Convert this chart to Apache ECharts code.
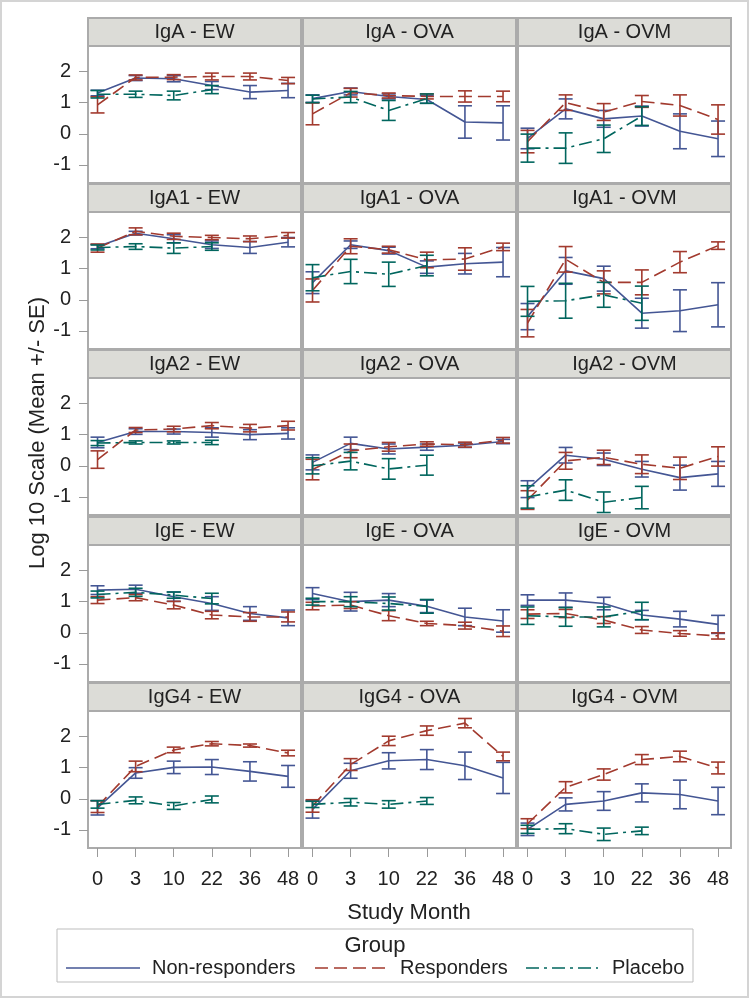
<!DOCTYPE html>
<html>
<head>
<meta charset="utf-8">
<script src="https://cdn.jsdelivr.net/npm/echarts@6/dist/echarts.min.js"></script>
<style>
html,body{margin:0;padding:0;background:#fff;}
#chart{width:750px;height:1000px;}
</style>
</head>
<body>
<div id="chart"></div>
<script>
// ---------- data ----------
const months = ['0', '3', '10', '22', '36', '48'];
const analytes = ['IgA', 'IgA1', 'IgA2', 'IgE', 'IgG4'];
const antigens = ['EW', 'OVA', 'OVM'];
const groups = ['Non-responders', 'Responders', 'Placebo'];
const yTicks = [-1, 0, 1, 2];

// rows: panels in reading order (IgA-EW, IgA-OVA, IgA-OVM, IgA1-EW, ...); columns: months
const nonMean = [
  [1.31, 1.79, 1.77, 1.55, 1.34, 1.39],
  [1.13, 1.36, 1.20, 1.10, 0.38, 0.35],
  [-0.15, 0.80, 0.48, 0.57, 0.08, -0.16],
  [1.71, 2.14, 1.96, 1.77, 1.68, 1.85],
  [0.55, 1.77, 1.58, 1.05, 1.16, 1.21],
  [-0.54, 0.93, 0.68, -0.43, -0.35, -0.16],
  [0.75, 1.10, 1.10, 1.07, 1.00, 1.04],
  [0.11, 0.72, 0.54, 0.60, 0.66, 0.78],
  [-0.75, 0.34, 0.21, -0.11, -0.38, -0.26],
  [1.37, 1.40, 1.16, 0.94, 0.62, 0.48],
  [1.26, 1.00, 1.05, 0.85, 0.51, 0.38],
  [1.05, 1.05, 0.94, 0.57, 0.44, 0.27],
  [-0.29, 0.83, 1.01, 1.02, 0.88, 0.72],
  [-0.34, 0.90, 1.22, 1.26, 1.06, 0.67],
  [-0.98, -0.18, -0.07, 0.19, 0.14, -0.07]
];
const nonSE = [
  [0.09, 0.08, 0.10, 0.13, 0.21, 0.23],
  [0.12, 0.11, 0.08, 0.12, 0.52, 0.55],
  [0.33, 0.32, 0.27, 0.32, 0.56, 0.57],
  [0.07, 0.06, 0.13, 0.12, 0.19, 0.15],
  [0.35, 0.12, 0.11, 0.20, 0.33, 0.47],
  [0.42, 0.43, 0.40, 0.48, 0.67, 0.71],
  [0.17, 0.09, 0.08, 0.15, 0.16, 0.18],
  [0.24, 0.20, 0.16, 0.10, 0.07, 0.07],
  [0.27, 0.25, 0.20, 0.25, 0.40, 0.40],
  [0.14, 0.13, 0.15, 0.22, 0.22, 0.25],
  [0.19, 0.30, 0.21, 0.20, 0.28, 0.36],
  [0.17, 0.23, 0.20, 0.15, 0.25, 0.29],
  [0.23, 0.17, 0.20, 0.24, 0.31, 0.35],
  [0.28, 0.24, 0.26, 0.32, 0.44, 0.50],
  [0.20, 0.21, 0.30, 0.29, 0.46, 0.44]
];
const respMean = [
  [0.93, 1.81, 1.82, 1.84, 1.84, 1.71],
  [0.64, 1.32, 1.23, 1.20, 1.20, 1.20],
  [-0.25, 1.00, 0.70, 1.04, 0.91, 0.46],
  [1.66, 2.20, 2.04, 2.00, 1.96, 2.07],
  [0.30, 1.72, 1.61, 1.28, 1.31, 1.70],
  [-0.75, 1.30, 0.56, 0.56, 1.21, 1.74],
  [0.20, 1.15, 1.18, 1.29, 1.21, 1.29],
  [-0.12, 0.48, 0.61, 0.70, 0.68, 0.82],
  [-1.10, 0.16, 0.27, 0.05, -0.08, 0.30],
  [1.05, 1.13, 0.89, 0.57, 0.51, 0.51],
  [0.86, 0.89, 0.55, 0.30, 0.23, 0.05],
  [0.60, 0.62, 0.41, 0.09, -0.02, -0.10],
  [-0.25, 1.04, 1.57, 1.77, 1.71, 1.47],
  [-0.23, 1.10, 1.86, 2.19, 2.43, 1.36],
  [-0.80, 0.37, 0.78, 1.26, 1.36, 0.99]
];
const respSE = [
  [0.26, 0.08, 0.08, 0.11, 0.11, 0.10],
  [0.35, 0.14, 0.08, 0.08, 0.18, 0.17],
  [0.36, 0.25, 0.27, 0.19, 0.34, 0.47],
  [0.13, 0.11, 0.10, 0.07, 0.09, 0.09],
  [0.37, 0.24, 0.11, 0.25, 0.36, 0.12],
  [0.44, 0.41, 0.37, 0.40, 0.34, 0.12],
  [0.28, 0.08, 0.09, 0.10, 0.12, 0.14],
  [0.33, 0.22, 0.14, 0.07, 0.08, 0.09],
  [0.30, 0.27, 0.23, 0.30, 0.36, 0.31],
  [0.11, 0.10, 0.12, 0.12, 0.14, 0.16],
  [0.12, 0.11, 0.16, 0.07, 0.11, 0.17],
  [0.14, 0.13, 0.11, 0.11, 0.09, 0.10],
  [0.19, 0.17, 0.09, 0.07, 0.05, 0.09],
  [0.20, 0.19, 0.15, 0.15, 0.15, 0.14],
  [0.16, 0.18, 0.18, 0.16, 0.17, 0.19]
];
const placMean = [
  [1.27, 1.27, 1.23, 1.42, null, null],
  [1.12, 1.18, 0.75, 1.13, null, null],
  [-0.46, -0.46, -0.16, 0.57, null, null],
  [1.68, 1.71, 1.66, 1.71, null, null],
  [0.71, 0.91, 0.82, 1.10, null, null],
  [-0.05, -0.03, 0.16, -0.11, null, null],
  [0.73, 0.75, 0.75, 0.75, null, null],
  [0.00, 0.15, -0.10, 0.02, null, null],
  [-1.00, -0.78, -1.17, -1.02, null, null],
  [1.23, 1.30, 1.21, 1.10, null, null],
  [1.00, 1.00, 0.94, 0.85, null, null],
  [0.55, 0.51, 0.51, 0.70, null, null],
  [-0.18, -0.05, -0.23, -0.02, null, null],
  [-0.18, -0.11, -0.18, -0.07, null, null],
  [-0.98, -0.96, -1.14, -1.03, null, null]
];
const placSE = [
  [0.12, 0.10, 0.14, 0.13, null, null],
  [0.12, 0.18, 0.32, 0.15, null, null],
  [0.45, 0.49, 0.44, 0.30, null, null],
  [0.08, 0.09, 0.17, 0.12, null, null],
  [0.42, 0.39, 0.39, 0.33, null, null],
  [0.48, 0.56, 0.40, 0.55, null, null],
  [0.08, 0.05, 0.05, 0.07, null, null],
  [0.26, 0.28, 0.33, 0.32, null, null],
  [0.36, 0.33, 0.33, 0.36, null, null],
  [0.11, 0.13, 0.10, 0.17, null, null],
  [0.11, 0.16, 0.21, 0.22, null, null],
  [0.28, 0.30, 0.32, 0.28, null, null],
  [0.12, 0.11, 0.11, 0.11, null, null],
  [0.10, 0.12, 0.12, 0.11, null, null],
  [0.13, 0.16, 0.20, 0.12, null, null]
];

// ---------- styling / layout ----------
const FONT = '"Liberation Sans", Arial, sans-serif';
const TXT = '#222';
const colors = ['#445694', '#A23A2E', '#01665E'];
const dashes = ['solid', [13, 6], [13, 5, 3, 5]];
const means = [nonMean, respMean, placMean];
const ses = [nonSE, respSE, placSE];

const colLeft = [88, 303, 518], colW = 213;
const rowTop = [18, 184, 350, 517, 683], headH = 27, plotH = 137;
const tickIdx = months.map((m, i) => i);

const grids = [], xAxes = [], yAxes = [], series = [], graphics = [];

graphics.push({type: 'rect', shape: {x: 1, y: 1, width: 747, height: 996},
  style: {fill: 'none', stroke: '#d4d4d4', lineWidth: 2}, silent: true});

for (let r = 0; r < analytes.length; r++) {
  for (let c = 0; c < antigens.length; c++) {
    const idx = r * 3 + c;
    grids.push({left: colLeft[c], top: rowTop[r] + headH + 1, width: colW, height: plotH,
      show: true, borderColor: '#ababab', borderWidth: 2, backgroundColor: '#fff'});
    xAxes.push({gridIndex: idx, type: 'value', min: -0.25, max: 5.34, position: 'bottom',
      axisLine: {show: false, onZero: false}, splitLine: {show: false},
      axisTick: {show: r === analytes.length - 1, customValues: tickIdx, length: 9,
        lineStyle: {color: '#9a9a9a', width: 1}},
      axisLabel: {show: r === analytes.length - 1, customValues: tickIdx, margin: 21,
        formatter: v => months[Math.round(v)], fontSize: 20, fontFamily: FONT, color: TXT}});
    yAxes.push({gridIndex: idx, type: 'value', min: -1.58, max: 2.82, position: 'left',
      axisLine: {show: false, onZero: false}, splitLine: {show: false},
      axisTick: {show: c === 0, customValues: yTicks, length: 9,
        lineStyle: {color: '#9a9a9a', width: 1}},
      axisLabel: {show: c === 0, customValues: yTicks, margin: 17,
        fontSize: 20, fontFamily: FONT, color: TXT}});
    // header strip
    graphics.push({type: 'rect', shape: {x: colLeft[c], y: rowTop[r], width: colW, height: headH + 1},
      style: {fill: '#dcdcd7', stroke: '#ababab', lineWidth: 2}, silent: true});
    graphics.push({type: 'text', x: colLeft[c] + colW / 2, y: rowTop[r] + headH / 2 + 1,
      style: {text: analytes[r] + ' - ' + antigens[c], fontSize: 20, fontFamily: FONT, fill: TXT,
        align: 'center', verticalAlign: 'middle'}, silent: true});

    for (let g = 0; g < groups.length; g++) {
      const m = means[g][idx], s = ses[g][idx];
      const lineData = [], barData = [];
      m.forEach((v, i) => {
        if (v == null) return;
        lineData.push([i, v]);
        barData.push([i, v - s[i], v + s[i]]);
      });
      series.push({type: 'line', name: groups[g], xAxisIndex: idx, yAxisIndex: idx,
        data: lineData, showSymbol: false, symbol: 'none', silent: true, animation: false,
        lineStyle: {color: colors[g], width: 1.6, type: dashes[g]}, z: 2 + g});
      series.push({type: 'custom', name: groups[g], xAxisIndex: idx, yAxisIndex: idx,
        data: barData, encode: {x: 0, y: [1, 2]}, silent: true, animation: false, z: 2 + g,
        renderItem: (params, api) => {
          const x = api.value(0);
          const p1 = api.coord([x, api.value(1)]);
          const p2 = api.coord([x, api.value(2)]);
          const hw = 7;
          const st = {stroke: colors[g], lineWidth: 1.6};
          return {type: 'group', children: [
            {type: 'line', shape: {x1: p1[0], y1: p1[1], x2: p2[0], y2: p2[1]}, style: st},
            {type: 'line', shape: {x1: p1[0] - hw, y1: p1[1], x2: p1[0] + hw, y2: p1[1]}, style: st},
            {type: 'line', shape: {x1: p2[0] - hw, y1: p2[1], x2: p2[0] + hw, y2: p2[1]}, style: st}
          ]};
        }});
    }
  }
}

// axis titles
graphics.push({type: 'text', x: 38, y: 433, rotation: Math.PI / 2,
  style: {text: 'Log 10 Scale (Mean +/- SE)', fontSize: 22, fontFamily: FONT, fill: TXT,
    align: 'center', verticalAlign: 'middle'}, silent: true});
graphics.push({type: 'text', x: 409, y: 913,
  style: {text: 'Study Month', fontSize: 22, fontFamily: FONT, fill: TXT,
    align: 'center', verticalAlign: 'middle'}, silent: true});

// legend
graphics.push({type: 'rect', shape: {x: 57, y: 929, width: 636, height: 53},
  style: {fill: 'none', stroke: '#bdbdbd', lineWidth: 1}, silent: true});
graphics.push({type: 'text', x: 375, y: 946,
  style: {text: 'Group', fontSize: 22, fontFamily: FONT, fill: TXT, align: 'center', verticalAlign: 'middle'}, silent: true});
const legLine = [[66, 140, 152], [315, 388, 400], [526, 598, 612]];
groups.forEach((name, g) => {
  graphics.push({type: 'line', shape: {x1: legLine[g][0], y1: 968, x2: legLine[g][1], y2: 968},
    style: {stroke: colors[g], lineWidth: 1.6, lineDash: g === 0 ? null : dashes[g]}, silent: true});
  graphics.push({type: 'text', x: legLine[g][2], y: 968,
    style: {text: name, fontSize: 20, fontFamily: FONT, fill: TXT, align: 'left', verticalAlign: 'middle'}, silent: true});
});

const chart = echarts.init(document.getElementById('chart'), null, {renderer: 'canvas'});
chart.setOption({
  animation: false,
  backgroundColor: '#fff',
  grid: grids,
  xAxis: xAxes,
  yAxis: yAxes,
  series: series,
  graphic: graphics
});
</script>
</body>
</html>
